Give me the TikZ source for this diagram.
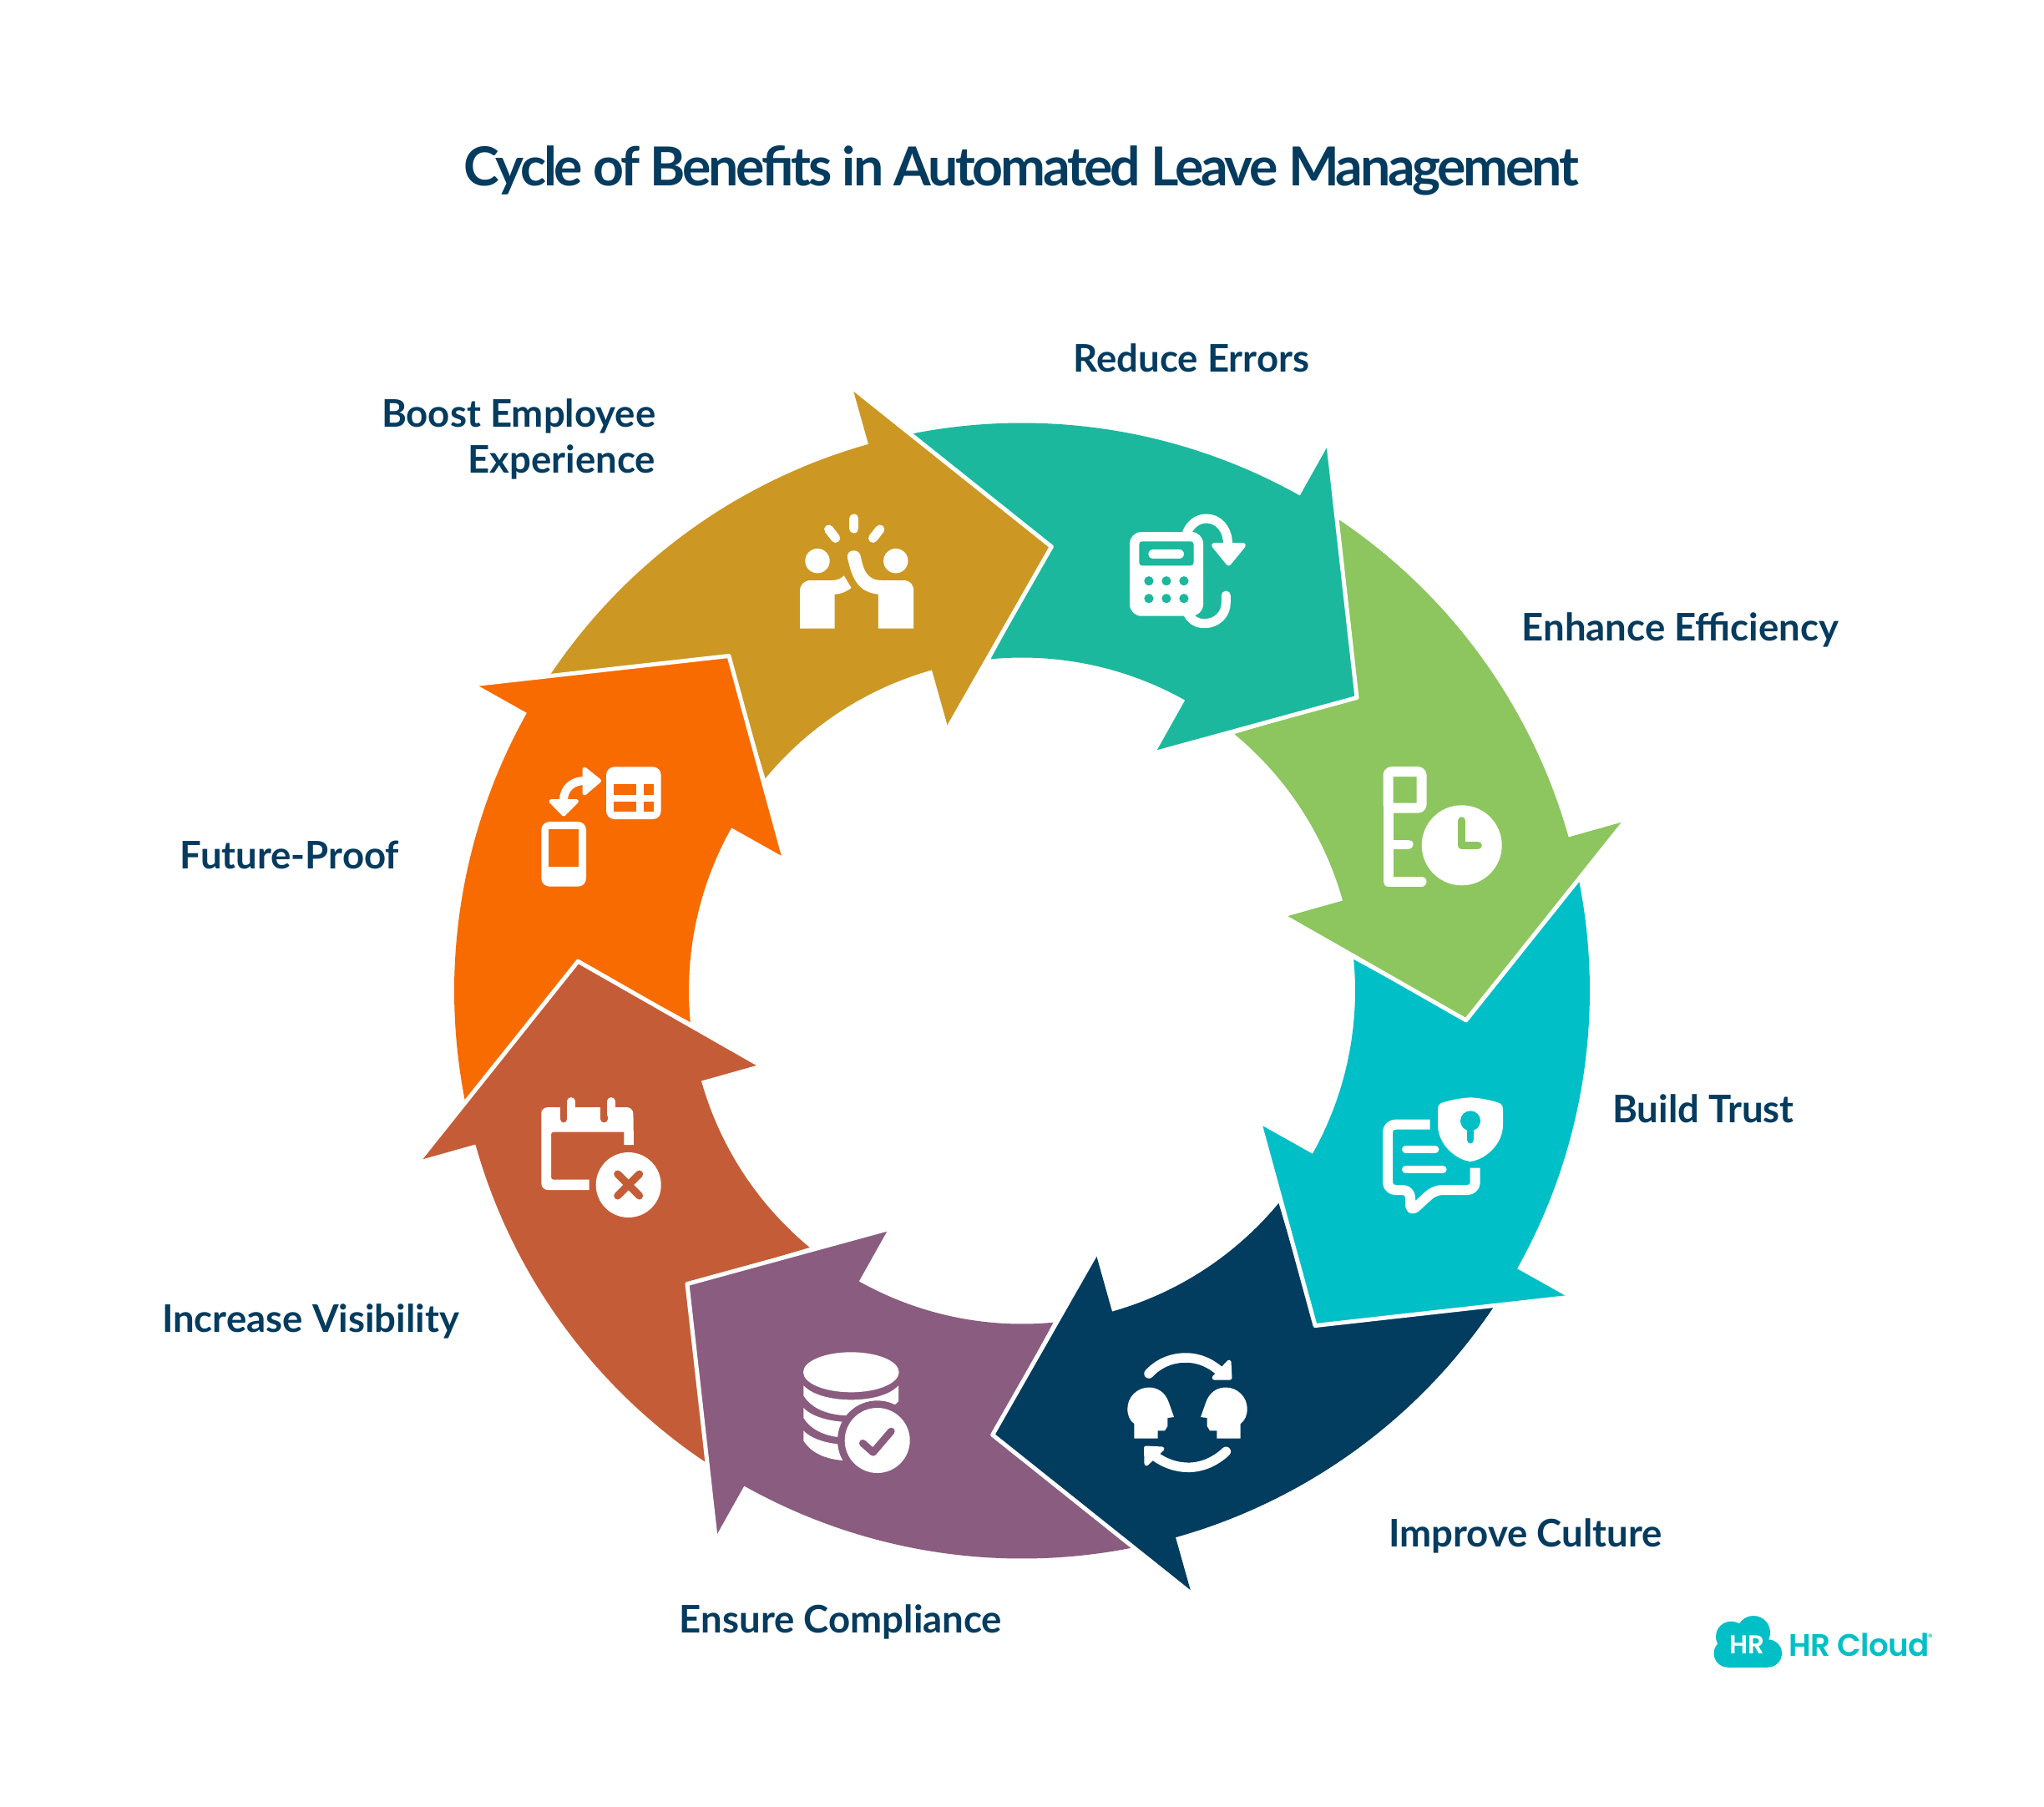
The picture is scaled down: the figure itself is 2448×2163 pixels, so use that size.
\documentclass[tikz,border=0pt]{standalone}
\usepackage{fontspec}
\setmainfont{Lato}
\newfontfamily\titlefont{Lato}[LetterSpace=-5.1]
\newfontfamily\logofont{Poppins SemiBold}[LetterSpace=-2]
\usepackage{tikz}
\definecolor{inktext}{HTML}{043B5E}
\definecolor{goldarw}{HTML}{CC9823}
\definecolor{tealarw}{HTML}{1CB89D}
\definecolor{greenarw}{HTML}{8DC55F}
\definecolor{cyanarw}{HTML}{00BFC6}
\definecolor{navyarw}{HTML}{023C5F}
\definecolor{purplearw}{HTML}{8A5C7F}
\definecolor{brownarw}{HTML}{C45D37}
\definecolor{orangearw}{HTML}{F76B00}

\begin{document}
\begin{tikzpicture}[
    x=0.01cm,
    y=-0.01cm,
    lbl/.style={
      inktext,
      font=\fontsize{12.95}{15.6}\selectfont\bfseries,
      inner sep=0pt
    },
    wl/.style={
      draw=white,
      line width=#1*0.01cm,
      line cap=round,
      line join=round
    },
    wf/.style={
      fill=white
    }]

    \useasboundingbox (0,0) rectangle (2448,2163);
    \fill[white] (0,0) rectangle (2448,2163);

    % Helper macros.
    \def\arw#1#2{
      \fill[#2] (#1+40.4:680) arc[start angle=#1+40.4, end angle=#1, radius=680]
        -- (#1:750) -- (#1-19.5:533) -- (#1:327) -- (#1:399)
        arc[start angle=#1, end angle=#1+34.7, radius=399]
        -- (#1+25.5:533) -- cycle;
    }
    \def\edg#1{
      \draw[wl=5] (#1:750) -- (#1-19.5:533) -- (#1:327);
    }
    \def\band#1{
      \fill[white] (962.3,#1) .. controls (975,#1+13) and (1000,#1+17) .. (1019.3,#1+17)
        .. controls (1039,#1+17) and (1064,#1+13) .. (1076,#1) -- (1076,#1+19)
        .. controls (1064,#1+32) and (1039,#1+36) .. (1019.3,#1+36)
        .. controls (1000,#1+36) and (975,#1+32) .. (962.3,#1+12) -- cycle;
    }

    % Draw the eight arrows of the ring.
    \begin{scope}[shift={(1224,1186.5)},yscale=-1]
      \foreach \ang/\col in {105.7/goldarw,60.7/tealarw,15.7/greenarw,-29.3/cyanarw,
        -74.3/navyarw,-119.3/purplearw,-164.3/brownarw,150.7/orangearw} {
        \arw{\ang}{\col}
      }
      \foreach \ang in {105.7,60.7,15.7,-29.3,-74.3,-119.3,-164.3,150.7} {
        \edg{\ang}
      }
    \end{scope}

    % Draw the title and the labels.
    \node[inktext,font=\titlefont\fontsize{18.3}{20}\selectfont\bfseries,inner sep=0pt] (title) at (1223,204)
      {Cycle of Benefits in Automated Leave Management};
    \node[lbl] (reduce) at (1427,429) {Reduce Errors};
    \node[lbl] (enhance) at (2012.5,754) {Enhance Efficiency};
    \node[lbl] (trust) at (2040,1328) {Build Trust};
    \node[lbl] (culture) at (1827,1839) {Improve Culture};
    \node[lbl] (comply) at (1007,1942) {Ensure Compliance};
    \node[lbl] (visible) at (372,1582) {Increase Visibility};
    \node[lbl] (future) at (347,1024) {Future-Proof};
    \node[lbl,align=right,anchor=east] (boost) at (786,526) {Boost Employee\\Experience};

    % Draw the high five.
    \fill[wf] (979,671.7) circle[radius=14.7];
    \fill[wf] (1072.8,671.7) circle[radius=14.7];
    \draw[wl=11] (1022.8,621) -- (1022.8,633);
    \draw[wl=11] (992.6,634) -- (1000.7,644.5);
    \draw[wl=11] (1053.8,634) -- (1045.5,644.5);
    \fill[wf] (958,752.7) -- (958,708) .. controls (958,700) and (963,695) .. (971.4,695)
      -- (996,695) .. controls (1003,695) and (1007,693) .. (1010.7,689.3) -- (1019.6,704)
      .. controls (1013,709) and (1006,711.7) .. (999.6,711.7) -- (999.6,752.7) -- cycle;
    \fill[wf] (1015,668.3) .. controls (1014,662) and (1018,659.3) .. (1022.8,659.3)
      .. controls (1027,659.3) and (1030,662) .. (1031,667)
      .. controls (1034,682) and (1038,695) .. (1056,695) -- (1082,695)
      .. controls (1090,695) and (1094.2,700) .. (1094.2,708) -- (1094.2,752.7)
      -- (1051.8,752.7) -- (1051.8,711.7) .. controls (1026,709) and (1020,690) .. (1015,668.3) -- cycle;

    % Draw the calculator.
    \fill[wf,rounded corners=4pt] (1353,637) rectangle (1441,737.7);
    \fill[tealarw,rounded corners=1pt] (1364.3,648.3) rectangle (1429.5,677.3);
    \draw[wl=11.6] (1375.4,663.5) ++(5.8,0) -- (1412.1,663.5);
    \foreach \cx in {1375.9,1396.9,1417.9} {
      \foreach \cy in {695.7,716.7} {
        \fill[tealarw] (\cx,\cy) circle[radius=5.6];
      }
    }
    \draw[wl=11] (1421.4,638) .. controls (1426,627) and (1435,621) .. (1444.6,621)
      .. controls (1459,621) and (1470.5,633) .. (1470.5,652);
    \fill[wf,draw=white,line width=0.06cm,line join=round] (1454,653) -- (1489,653) -- (1471.4,674.5) -- cycle;
    \draw[wl=11] (1468.3,713) -- (1468.3,722) .. controls (1468.3,736) and (1457,746.7) .. (1442.4,746.7)
      .. controls (1433,746.7) and (1426,742) .. (1422.3,734);

    % Draw the form and the clock.
    \draw[wl=12,rounded corners=1pt] (1662.5,967.5) -- (1702.5,967.5) -- (1702.5,924.2) -- (1662.5,924.2) -- cycle;
    \draw[wl=12] (1662.5,967) -- (1662.5,1055.7) -- (1702.5,1055.7);
    \draw[wl=11] (1662.5,1011) -- (1687,1011);
    \fill[wf] (1750.7,1012.3) circle[radius=48];
    \draw[greenarw,line width=0.095cm,line cap=round,line join=round] (1750.7,983) -- (1750.7,1012.3) -- (1770,1012.3);

    % Draw the bubble and the shield.
    \draw[wl=12,line cap=butt,rounded corners=2.6pt] (1712.7,1346.7) -- (1662,1346.7) -- (1662,1425)
      -- (1689,1425) -- (1689,1451.7) -- (1718.3,1425) -- (1766.7,1425) -- (1766.7,1398.5);
    \draw[wl=8.7] (1683.3,1376.7) -- (1719,1376.7);
    \draw[wl=8.7] (1683.3,1400.7) -- (1728.3,1400.7);
    \fill[wf] (1761,1314.3) .. controls (1747,1315) and (1735,1318) .. (1726,1321)
      .. controls (1723,1322) and (1722,1325) .. (1722,1328) -- (1722,1347)
      .. controls (1722,1371) and (1744,1389) .. (1761,1391)
      .. controls (1778,1389) and (1800,1371) .. (1800,1347) -- (1800,1328)
      .. controls (1800,1325) and (1799,1322) .. (1796,1321)
      .. controls (1787,1318) and (1775,1315) .. (1761,1314.3) -- cycle;
    \fill[cyanarw] (1761,1342.3) circle[radius=12];
    \draw[cyanarw,line width=0.087cm,line cap=round] (1761,1350) -- (1761,1365);

    % Draw the two heads and the turning arrows.
    \foreach \hshift/\hflip in {0/1,2844/-1} {
      \begin{scope}[shift={(\hshift,0)},xscale=\hflip]
        \fill[wf] (1358.3,1722.7) -- (1386.7,1722.7) -- (1386.7,1713.3) -- (1395,1713.3) -- (1398.3,1708)
          -- (1398.3,1698) -- (1406,1697) -- (1400,1680) .. controls (1396,1668) and (1387,1661.5) .. (1376,1661.5)
          .. controls (1362,1661.5) and (1350.3,1673) .. (1350.3,1687)
          .. controls (1350.3,1695) and (1353,1701) .. (1358.3,1705) -- cycle;
      \end{scope}
    }
    \draw[wl=11.5] (1376,1645) .. controls (1388,1632) and (1404,1626) .. (1420,1626)
      .. controls (1436,1626) and (1450,1632) .. (1463,1644);
    \fill[wf,draw=white,line width=0.05cm,line join=round] (1472,1631) -- (1473,1650) -- (1454,1650) -- cycle;
    \draw[wl=11.5] (1468.3,1738.3) .. controls (1456,1750) and (1440,1757.3) .. (1423.3,1757.3)
      .. controls (1408,1757.3) and (1394,1752) .. (1382,1743);
    \fill[wf,draw=white,line width=0.05cm,line join=round] (1392,1735) -- (1372.5,1734) -- (1373,1753) -- cycle;

    % Draw the database and the check mark.
    \fill[wf] (1019.3,1643.3) ellipse[x radius=57.3,y radius=24];
    \band{1659.3}
    \band{1686}
    \band{1713.3}
    \fill[purplearw] (1050.7,1725) circle[radius=47.7];
    \fill[wf] (1050.7,1725) circle[radius=39];
    \draw[purplearw,line width=0.087cm,line cap=round,line join=round] (1033.3,1728.3) -- (1045.7,1739.3) -- (1067.3,1714);

    % Draw the calendar and the cross.
    \fill[wf] (648.3,1334) [rounded corners=2.2pt] -- (648.3,1326) -- (758.3,1326) [sharp corners]
      -- (759,1371) -- (747.3,1371) -- (747.3,1355.7) [rounded corners=0.8pt] -- (660,1355.7) -- (660,1412.7)
      [sharp corners] -- (705.7,1412.7) -- (705.7,1425) [rounded corners=2.2pt] -- (648.3,1425) -- cycle;
    \foreach \rx in {675,723.3} {
      \draw[brownarw,line width=0.087cm,line cap=round] (\rx,1318) -- (\rx,1340);
    }
    \foreach \rx in {684,732} {
      \draw[wl=9.3] (\rx,1318.7) -- (\rx,1335);
    }
    \fill[wf] (752.7,1419) circle[radius=39];
    \draw[brownarw,line width=0.09cm,line cap=round] (739.7,1406) -- (765.7,1432);
    \draw[brownarw,line width=0.09cm,line cap=round] (765.7,1406) -- (739.7,1432);

    % Draw the table, the phone and the double arrow.
    \fill[wf,rounded corners=2.8pt] (726,918.3) rectangle (791.7,981);
    \foreach \tx/\tw in {735/762.3,771/783} {
      \foreach \ty/\th in {939.3/951.7,960/972} {
        \fill[orangearw] (\tx,\ty) rectangle (\tw,\th);
      }
    }
    \fill[wf,rounded corners=2.8pt] (648.3,984) rectangle (702,1061.7);
    \fill[orangearw] (656.7,993.3) rectangle (693.3,1037.7);
    \draw[wl=10,line cap=butt] (675,958.3) .. controls (675,945) and (685,935) .. (700,935);
    \fill[wf,draw=white,line width=0.05cm,line join=round] (700,921) -- (717.5,935) -- (700,950) -- cycle;
    \fill[wf,draw=white,line width=0.05cm,line join=round] (660,959.5) -- (690.5,959.5) -- (675,975) -- cycle;

    % Draw the logo.
    \fill[cyanarw] (2073.3,1960) circle[radius=18.3];
    \fill[cyanarw] (2100,1955) circle[radius=20];
    \fill[cyanarw] (2069.3,1980) circle[radius=16.7];
    \fill[cyanarw] (2117.3,1980) circle[radius=16.7];
    \fill[cyanarw] (2069.3,1963.3) rectangle (2117.3,1996.7);
    \node[white,font=\logofont\fontsize{8.8}{10}\selectfont,inner sep=0pt] (logohr) at (2092.3,1970) {HR};
    \node[cyanarw,font=\logofont\fontsize{10.6}{12}\selectfont,inner sep=0pt] (logotxt) at (2226.5,1970) {HR Cloud};
    \node[cyanarw,font=\logofont\fontsize{3}{4}\selectfont,inner sep=0pt] (logoreg) at (2311.7,1960.7) {®};
  \end{tikzpicture}
\end{document}
